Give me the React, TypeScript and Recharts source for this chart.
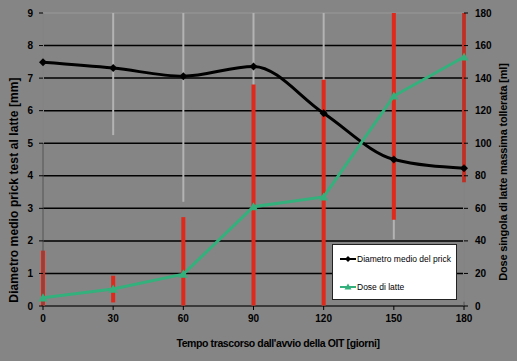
import React from 'react';
import { ComposedChart, Line, XAxis, YAxis, CartesianGrid, ErrorBar, Legend, ReferenceLine } from 'recharts';

// giorni dall'avvio della OIT
const days = [0, 30, 60, 90, 120, 150, 180];
// diametro medio prick test (mm) e deviazione
const prick = [7.49, 7.31, 7.06, 7.36, 5.92, 4.5, 4.23];
const prickSd = [2.5, 2.06, 3.86, 2.97, 3.13, 2.45, 4.1];
// dose di latte (ml) e deviazione
const dose = [5, 10.4, 19.6, 61, 67, 129, 153];
const doseSd = [29, 8.2, 35, 75, 72, 76, 77];

const leftTicks = [0, 1, 2, 3, 4, 5, 6, 7, 8, 9];
const rightTicks = [0, 20, 40, 60, 80, 100, 120, 140, 160, 180];

const BG = '#858585';
const RED = '#e0291a';
const GREEN = '#34b07c';
const FONT = '"Liberation Sans", Arial, sans-serif';

// clamp error bars to the axis range so they stop at the frame
const clampErr = (v: number, e: number, max: number) => [Math.min(e, v), Math.min(e, max - v)];

const data = days.map((d, i) => ({
  day: d,
  prick: prick[i],
  prickErr: clampErr(prick[i], prickSd[i], 9),
  dose: dose[i],
  doseErr: clampErr(dose[i], doseSd[i], 180),
}));

const Diamond = (props: any) => {
  const { cx, cy } = props;
  if (cx == null || cy == null) return null;
  const s = 4;
  return <polygon points={`${cx},${cy - s} ${cx + s},${cy} ${cx},${cy + s} ${cx - s},${cy}`} fill="#000" />;
};

const Triangle = (props: any) => {
  const { cx, cy } = props;
  if (cx == null || cy == null) return null;
  const s = 4.5;
  return <polygon points={`${cx},${cy - s} ${cx + s},${cy + s * 0.8} ${cx - s},${cy + s * 0.8}`} fill={GREEN} />;
};

// axis title drawn at a fixed spot
const Title = (p: any) => (
  <text
    x={p.tx}
    y={p.ty}
    transform={p.rot ? `rotate(${p.rot}, ${p.tx}, ${p.ty})` : undefined}
    textAnchor="middle"
    dominantBaseline="central"
    fill="#000"
    fontFamily={FONT}
    fontWeight={700}
    fontSize={p.size}
    letterSpacing={p.spacing}
  >
    {p.text}
  </text>
);

const LegendBox = () => (
  <div
    style={{
      width: 125,
      height: 56,
      boxSizing: 'border-box',
      background: '#fff',
      border: '1px solid #222',
      fontFamily: FONT,
      fontSize: 8.5,
      color: '#000',
      position: 'relative',
    }}
  >
    {[
      { label: 'Diametro medio del prick', color: '#000', tri: false, top: 14 },
      { label: 'Dose di latte', color: GREEN, tri: true, top: 42 },
    ].map((e) => (
      <div key={e.label} style={{ position: 'absolute', left: 7, top: e.top - 6, height: 12, display: 'flex', alignItems: 'center' }}>
        <svg width={16} height={10} style={{ marginRight: 1 }}>
          <line x1={0} y1={5} x2={16} y2={5} stroke={e.color} strokeWidth={2} />
          {e.tri ? (
            <polygon points="8,1.5 11.5,7.5 4.5,7.5" fill={e.color} />
          ) : (
            <polygon points="8,2 11,5 8,8 5,5" fill={e.color} />
          )}
        </svg>
        <span style={{ whiteSpace: 'nowrap' }}>{e.label}</span>
      </div>
    ))}
  </div>
);

const tickStyle = { fill: '#000', fontSize: 10, fontWeight: 700, fontFamily: FONT };

export default function App() {
  return (
    <div style={{ position: 'absolute', left: 0, top: 0, width: 517, height: 361, background: BG }}>
      <ComposedChart width={517} height={361} data={data} margin={{ top: 13, right: 0, bottom: 0, left: 0 }}>
        <CartesianGrid vertical={false} stroke="#000" strokeWidth={1.5} yAxisId="left" />
        <XAxis
          dataKey="day"
          type="number"
          domain={[0, 180]}
          ticks={days}
          height={55}
          tick={tickStyle}
          tickSize={4}
          tickMargin={5}
          stroke="#555"
          tickLine={{ stroke: '#000' }}
          label={<Title tx={278} ty={343} size={10.5} spacing={-0.4} text="Tempo trascorso dall'avvio della OIT [giorni]" />}
        />
        <YAxis
          yAxisId="left"
          domain={[0, 9]}
          ticks={leftTicks}
          allowDataOverflow
          width={43}
          tick={tickStyle}
          tickSize={4}
          tickMargin={6}
          stroke="#555"
          tickLine={{ stroke: '#000' }}
          label={<Title tx={14} ty={190} rot={-90} size={12} spacing={0.1} text="Diametro medio prick test al latte [mm]" />}
        />
        <YAxis
          yAxisId="right"
          orientation="right"
          domain={[0, 180]}
          ticks={rightTicks}
          allowDataOverflow
          width={53}
          tick={tickStyle}
          tickSize={4}
          tickMargin={7}
          stroke="#555"
          tickLine={{ stroke: '#000' }}
          label={<Title tx={503} ty={172} rot={-90} size={11} spacing={-0.2} text="Dose singola di latte massima tollerata [ml]" />}
        />
        <ReferenceLine yAxisId="left" y={9} stroke="#b5b5b5" strokeWidth={1.5} />
        {/* error bars first so the lines sit on top */}
        <Line
          yAxisId="left"
          dataKey="prick"
          stroke="none"
          dot={false}
          activeDot={false}
          legendType="none"
          isAnimationActive={false}
        >
          <ErrorBar dataKey="prickErr" direction="y" width={0} stroke="#b3b3b3" strokeWidth={2} />
        </Line>
        <Line
          yAxisId="right"
          dataKey="dose"
          stroke="none"
          dot={false}
          activeDot={false}
          legendType="none"
          isAnimationActive={false}
        >
          <ErrorBar dataKey="doseErr" direction="y" width={0} stroke={RED} strokeWidth={4} />
        </Line>
        <Line
          yAxisId="left"
          type="monotone"
          dataKey="prick"
          name="Diametro medio del prick"
          stroke="#000"
          strokeWidth={3}
          dot={<Diamond />}
          activeDot={false}
          isAnimationActive={false}
        />
        <Line
          yAxisId="right"
          type="linear"
          dataKey="dose"
          name="Dose di latte"
          stroke={GREEN}
          strokeWidth={3}
          dot={<Triangle />}
          activeDot={false}
          isAnimationActive={false}
        />
        <Legend
          layout="vertical"
          align="center"
          verticalAlign="middle"
          content={() => <LegendBox />}
          wrapperStyle={{ position: 'absolute', left: 332, top: 244, width: 125, height: 56 }}
        />
      </ComposedChart>
    </div>
  );
}
